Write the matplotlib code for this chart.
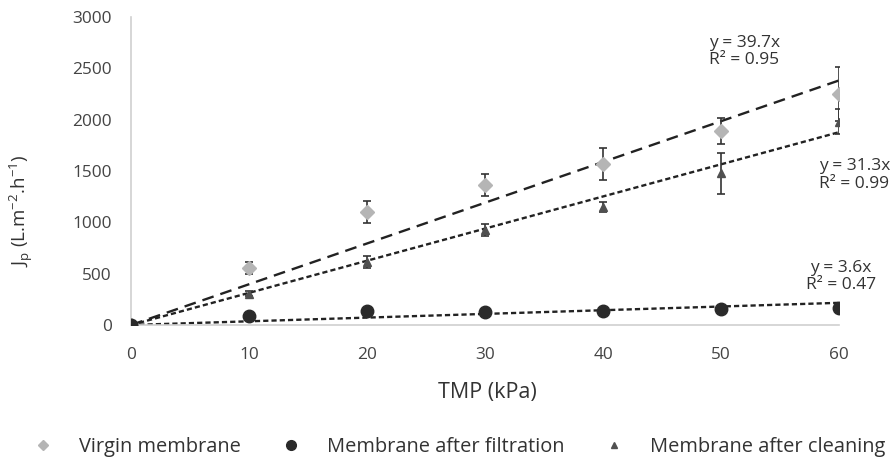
import matplotlib.pyplot as plt
from matplotlib.lines import Line2D

# ==============================
# Datos
# ==============================
tmp = [0, 10, 20, 30, 40, 50, 60]

virgin = [0, 555, 1100, 1365, 1570, 1890, 2250]
virgin_err = [0, 60, 105, 105, 155, 125, 260]

filtration = [0, 90, 140, 128, 140, 160, 168]

cleaning = [0, 305, 615, 928, 1150, 1480, 1980]
cleaning_err = [0, 25, 60, 60, 50, 200, 120]

slopes = {"virgin": 39.7, "cleaning": 31.3, "filtration": 3.6}
r2 = {"virgin": 0.95, "cleaning": 0.99, "filtration": 0.47}

legend_labels = ["Virgin membrane", "Membrane after filtration", "Membrane after cleaning"]

plt.rcParams['font.family'] = ['Open Sans', 'DejaVu Sans']

fig = plt.figure(figsize=(8.92, 4.58), dpi=100)
ax = fig.add_axes([0.1469, 0.2904, 0.7937, 0.6725])

# ==============================
# Líneas de tendencia
# ==============================
fit_x = [0, 60]
ax.plot(fit_x, [0, slopes["virgin"] * 60], color="#222222", lw=1.7,
        ls=(0, (5, 3)), zorder=2)
ax.plot(fit_x, [0, slopes["cleaning"] * 60], color="#222222", lw=1.7,
        ls=(0, (2.2, 1.3)), zorder=2)
ax.plot(fit_x, [0, slopes["filtration"] * 60], color="#222222", lw=1.7,
        ls=(0, (2.2, 1.3)), zorder=2)

# ==============================
# Puntos con barras de error
# ==============================
ax.errorbar(tmp, virgin, yerr=virgin_err, fmt="D", color="#b5b5b5",
            ms=7, ecolor="#333333", elinewidth=1.2, capsize=3, capthick=1.2, zorder=3)
ax.errorbar(tmp, cleaning, yerr=cleaning_err, fmt="^", color="#505050",
            ms=5.5, ecolor="#333333", elinewidth=1.2, capsize=3, capthick=1.2, zorder=3)
ax.plot(tmp, filtration, "o", color="#2a2a2a", ms=9, zorder=4)

# ==============================
# Ecuaciones
# ==============================
eq_kw = dict(fontsize=12.5, color="#333333", va="center", ha="left", linespacing=1.15)
ax.text(49.0, 2663, f"y = {slopes['virgin']}x\nR² = {r2['virgin']}", **eq_kw)
ax.text(58.3, 1460, f"y = {slopes['cleaning']}x\nR² = {r2['cleaning']}", **eq_kw)
ax.text(57.2, 472, f"y = {slopes['filtration']}x\nR² = {r2['filtration']}",
        multialignment="center", **eq_kw)

# ==============================
# Ejes
# ==============================
ax.set_xlim(0, 60)
ax.set_ylim(0, 3000)
ax.set_xticks(tmp)
ax.set_yticks(range(0, 3001, 500))
ax.tick_params(length=0, labelsize=12.4, colors="#444444")
ax.tick_params(axis="y", pad=14)
ax.tick_params(axis="x", pad=16)
for s in ["top", "right"]:
    ax.spines[s].set_visible(False)
for s in ["left", "bottom"]:
    ax.spines[s].set_color("#d0d0d0")
    ax.spines[s].set_linewidth(1.2)

ax.set_xlabel("TMP (kPa)", fontsize=15.5, color="#333333")
ax.xaxis.set_label_coords(0.503, -0.185)
ax.set_ylabel(r"J$_\mathregular{p}$ (L.m$^\mathregular{-2}$.h$^\mathregular{-1}$)",
              fontsize=13.5, color="#333333")
ax.yaxis.set_label_coords(-0.136, 0.37)

# ==============================
# Leyenda
# ==============================
handles = [
    Line2D([], [], marker="D", color="#b5b5b5", ls="none", ms=5.5),
    Line2D([], [], marker="o", color="#2a2a2a", ls="none", ms=7),
    Line2D([], [], marker="^", color="#505050", ls="none", ms=5),
]
fig.legend(handles, legend_labels, loc="center left", bbox_to_anchor=(0.0366, 0.024),
           ncol=3, frameon=False, fontsize=14.4, handlelength=1.0, handletextpad=1.3,
           columnspacing=2.0, borderaxespad=0, borderpad=0, labelcolor="#333333")

fig.savefig("out.png", dpi=100)
